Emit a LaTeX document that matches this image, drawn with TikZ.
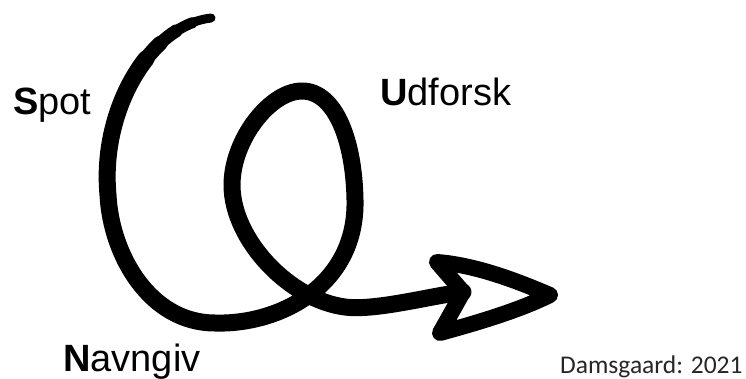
\documentclass[tikz,border=0pt]{standalone}
\usepackage{fontspec}
\setmainfont{Liberation Sans}
\newfontfamily\notefont{Carlito}
\tikzset{
  stroke/.style={line cap=round, line join=round, draw=black},
  label/.style={anchor=base west, inner sep=0pt, font=\fontsize{38}{40}\selectfont},
  note/.style={anchor=base west, inner sep=0pt, text=black!85, font=\notefont\fontsize{25.5}{28}\selectfont}
}
\begin{document}
\begin{tikzpicture}[x=1pt,y=-1pt]
\useasboundingbox (0,0) rectangle (746,379);
% named points along the spiral
\coordinate (start) at (211,18);
\coordinate (t1) at (193.1,22.4);
\coordinate (t2) at (176.1,30.9);
\coordinate (t3) at (160.3,43.3);
\coordinate (t4) at (146.1,58.8);
\coordinate (left) at (108,195);
\coordinate (bottom) at (215,323);
\coordinate (right) at (355,200);
\coordinate (top) at (302,91);
\coordinate (inner) at (232,185);
\coordinate (after) at (345,307);
\coordinate (notch) at (463,292);
% tapered start
\draw[stroke, line width=9pt] (start) .. controls (150,25) and (100,110) .. (left);
\draw[stroke, line width=11pt] (t1) .. controls (140.6,42) and (100.8,118.5) .. (left);
\draw[stroke, line width=13pt] (t2) .. controls (132.3,59) and (101.6,127) .. (left);
\draw[stroke, line width=15pt] (t3) .. controls (125.2,76) and (102.4,135.5) .. (left);
% main stroke
\draw[stroke, line width=17pt] (t4) .. controls (119.25,93) and (103.2,144) .. (left)
  .. controls (111,255) and (150,323) .. (bottom)
  .. controls (280,325) and (357,285) .. (right)
  .. controls (354,140) and (335,91) .. (top)
  .. controls (270,91) and (232,140) .. (inner)
  .. controls (232,240) and (290,300) .. (after)
  .. controls (375,311) and (430,296) .. (notch);
% arrow head
\coordinate (lower) at (440,333);
\coordinate (tip) at (550,295);
\coordinate (upper) at (437,262);
\draw[stroke, line width=16pt] (notch) -- (lower) .. controls (480,322) and (520,310) .. (tip) .. controls (515,280) and (475,265) .. (upper) -- cycle;
% labels
\node[label] (spot) at (13,115) {\textbf{S}pot};
\node[label] (udforsk) at (380,106) {\textbf{U}dforsk};
\node[label] (navngiv) at (63,371) {\textbf{N}avngiv};
\node[note] (credit) at (560,373) {Damsgaard: 2021};
\end{tikzpicture}
\end{document}
